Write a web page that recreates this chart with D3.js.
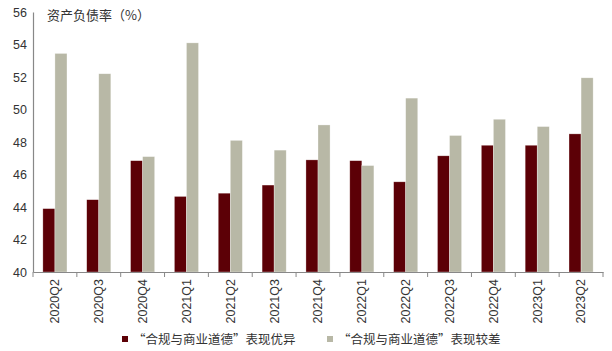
<!DOCTYPE html>
<html>
<head>
<meta charset="utf-8">
<script src="https://cdn.jsdelivr.net/npm/d3@7"></script>
<style>
  body { margin: 0; background: #fff; }
  svg { display: block; font-family: "Liberation Sans", Arial, "Noto Sans CJK SC", sans-serif; }
  .cjk { font-family: "Noto Sans CJK SC", sans-serif; }
</style>
</head>
<body>
<svg></svg>
<script>
// data
var quarters = ["2020Q2", "2020Q3", "2020Q4", "2021Q1", "2021Q2", "2021Q3", "2021Q4",
                "2022Q1", "2022Q2", "2022Q3", "2022Q4", "2023Q1", "2023Q2"];
var goodValues = [43.9, 44.45, 46.85, 44.65, 44.85, 45.35, 46.9, 46.85, 45.55, 47.15, 47.8, 47.8, 48.5];
var poorValues = [53.45, 52.2, 47.1, 54.1, 48.1, 47.5, 49.05, 46.55, 50.7, 48.4, 49.4, 48.95, 51.95];
var seriesNames = ["“合规与商业道德”表现优异", "“合规与商业道德”表现较差"];
var yTicks = [40, 42, 44, 46, 48, 50, 52, 54, 56];
var colors = ["#5c0006", "#b8b8a6"];

var margin = {top: 12, right: 9, bottom: 79, left: 33},
    width = 612 - margin.left - margin.right,
    height = 351 - margin.top - margin.bottom;

var svg = d3.select("svg")
    .attr("width", 612)
    .attr("height", 351);

var g = svg.append("g")
    .attr("transform", "translate(" + margin.left + "," + margin.top + ")");

var x = d3.scaleBand().domain(quarters).range([0, width]).paddingInner(0.45).paddingOuter(0.225);
var xTick = d3.scaleBand().domain(quarters).range([0, width]);
var x1 = d3.scaleBand().domain([0, 1]).range([0, x.bandwidth()]);
var y = d3.scaleLinear().domain([40, 56]).range([height, 0]);

var rows = quarters.map(function(q, i) { return {q: q, vals: [goodValues[i], poorValues[i]]}; });

// bars
var groups = g.selectAll(".grp")
    .data(rows)
    .enter().append("g")
    .attr("transform", function(d) { return "translate(" + x(d.q) + ",0)"; });

groups.selectAll("rect")
    .data(function(d) { return d.vals.map(function(v, k) { return {k: k, v: v}; }); })
    .enter().append("rect")
    .attr("x", function(d) { return x1(d.k); })
    .attr("width", x1.bandwidth())
    .attr("y", function(d) { return y(d.v); })
    .attr("height", function(d) { return height - y(d.v); })
    .attr("fill", function(d) { return colors[d.k]; })
    .attr("stroke", "#ffffff")
    .attr("stroke-opacity", 0.5)
    .attr("stroke-width", 0.6);

// y axis
var yAxis = g.append("g")
    .call(d3.axisLeft(y).tickValues(yTicks).tickSize(0).tickPadding(6));
yAxis.select(".domain").attr("stroke", "#888").attr("stroke-width", 1.2);
yAxis.selectAll("text").attr("font-size", "12.5px").attr("fill", "#333");

// x axis with ticks between categories
var xAxis = g.append("g")
    .attr("transform", "translate(0," + height + ")")
    .call(d3.axisBottom(xTick).tickSize(0).tickSizeOuter(0));
xAxis.select(".domain").attr("stroke", "#888").attr("stroke-width", 1.2);
xAxis.selectAll("text")
    .attr("font-size", "12.5px")
    .attr("fill", "#333")
    .attr("transform", "rotate(-90)")
    .attr("text-anchor", "end")
    .attr("x", -7)
    .attr("y", 0)
    .attr("dy", "0.35em");

var edges = quarters.map(function(q) { return xTick(q); }).concat([width]);
g.append("g").selectAll("line")
    .data(edges)
    .enter().append("line")
    .attr("x1", function(d) { return d; })
    .attr("x2", function(d) { return d; })
    .attr("y1", height)
    .attr("y2", height + 5)
    .attr("stroke", "#888")
    .attr("stroke-width", 1);

// title
svg.append("text")
    .attr("class", "cjk")
    .attr("x", 47)
    .attr("y", 20)
    .attr("font-size", "13px")
    .attr("fill", "#333")
    .text("资产负债率（%）");

// legend
var legendX = [122, 327];
var legend = svg.append("g").selectAll("g")
    .data(seriesNames)
    .enter().append("g")
    .attr("transform", function(d, i) { return "translate(" + legendX[i] + ",340)"; });
legend.append("rect")
    .attr("x", 0).attr("y", -4).attr("width", 6).attr("height", 6)
    .attr("fill", function(d, i) { return colors[i]; });
legend.append("text")
    .attr("class", "cjk")
    .attr("x", 11)
    .attr("y", 0)
    .attr("dy", "0.35em")
    .attr("font-size", "12.5px")
    .attr("fill", "#333")
    .text(function(d) { return d; });
</script>
</body>
</html>
